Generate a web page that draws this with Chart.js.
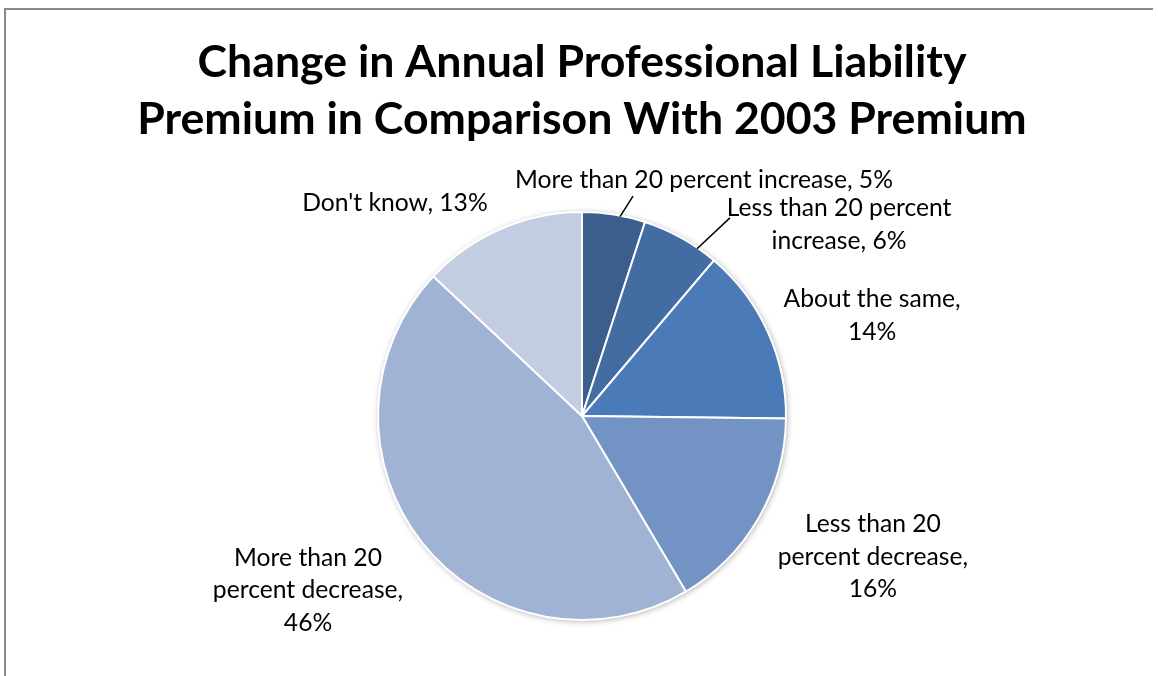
<!DOCTYPE html>
<html>
<head>
<meta charset="utf-8">
<script src="https://cdn.jsdelivr.net/npm/chart.js@4"></script>
<style>
  html, body { margin: 0; padding: 0; background: #fff; }
  #wrap { position: relative; width: 1158px; height: 676px; overflow: hidden; }
  #frame { position: absolute; left: 4px; top: 8px; width: 1149px; height: 700px;
           border-left: 2px solid #8a8a8a; border-top: 2px solid #8a8a8a; box-sizing: border-box; }
  canvas { position: absolute; left: 0; top: 0; }
</style>
</head>
<body>
<div id="wrap">
  <div id="frame"></div>
  <canvas id="c" width="1158" height="676"></canvas>
</div>
<script>
// ---- data ----
const titleLines = ["Change in Annual Professional Liability", "Premium in Comparison With 2003 Premium"];
const categories = [
  "More than 20 percent increase",
  "Less than 20 percent increase",
  "About the same",
  "Less than 20 percent decrease",
  "More than 20 percent decrease",
  "Don't know"
];
const values = [5.0, 6.2, 14.0, 16.3, 45.5, 13.0];
// how each category name is wrapped in its label (the percentage is appended)
const labelWrap = [
  ["More than 20 percent increase, {p}"],
  ["Less than 20 percent", "increase, {p}"],
  ["About the same,", "{p}"],
  ["Less than 20", "percent decrease,", "{p}"],
  ["More than 20", "percent decrease,", "{p}"],
  ["Don't know, {p}"]
];
const colors = ["#3B5E8C", "#426CA2", "#4A7AB7", "#7493C5", "#A1B3D5", "#C2CDE2"];

// ---- layout (in units of pie radius, relative to pie centre) ----
const labelPos = [[0.598, -1.157], [1.260, -0.939], [1.422, -0.493], [1.426, 0.691], [-1.343, 0.855], [-0.917, -1.044]];
const leaders = { 0: { frac: 0.6, end: [0.25, -1.078] }, 1: { frac: 0.74, end: [0.725, -0.971] } };

const labelFont = "Lato, 'Open Sans', sans-serif";
const titleFont = "Lato, 'Open Sans', sans-serif";

function fitSize(ctx, text, weight, family, target) {
  ctx.font = weight + " 100px " + family;
  return 100 * target / ctx.measureText(text).width;
}

const overlay = {
  id: 'overlay',
  beforeDatasetsDraw(chart) {
    const ctx = chart.ctx;
    const arc = chart.getDatasetMeta(0).data[0];
    ctx.save();
    ctx.shadowColor = 'rgba(0,0,0,0.35)';
    ctx.shadowBlur = 6;
    ctx.shadowOffsetX = 1;
    ctx.shadowOffsetY = 1;
    ctx.beginPath();
    ctx.arc(arc.x, arc.y, arc.outerRadius, 0, Math.PI * 2);
    ctx.fillStyle = '#fff';
    ctx.fill();
    ctx.restore();
  },
  afterDraw(chart) {
    const ctx = chart.ctx;
    const meta = chart.getDatasetMeta(0);
    const a0 = meta.data[0];
    const cx = a0.x, cy = a0.y, r = a0.outerRadius;
    const vals = chart.data.datasets[0].data;
    const total = vals.reduce((s, v) => s + v, 0);

    // title
    ctx.save();
    const ts = fitSize(ctx, titleLines[0], "bold", titleFont, 769);
    ctx.font = "bold " + ts.toFixed(2) + "px " + titleFont;
    ctx.fillStyle = "#000";
    ctx.textAlign = "center";
    ctx.textBaseline = "middle";
    ctx.fillText(titleLines[0], 582, 63);
    ctx.fillText(titleLines[1], 582, 120);
    ctx.restore();

    // labels
    ctx.save();
    const labelLines = labelWrap.map((lines, i) => {
      const p = Math.round(vals[i] / total * 100) + "%";
      return lines.map(t => t.replace("{p}", p));
    });
    const ls = fitSize(ctx, labelLines[0][0], "normal", labelFont, 378);
    ctx.font = ls.toFixed(2) + "px " + labelFont;
    ctx.fillStyle = "#000";
    ctx.textAlign = "center";
    ctx.textBaseline = "middle";
    const lh = 32.5;
    labelLines.forEach((lines, i) => {
      const x = cx + labelPos[i][0] * r;
      const y = cy + labelPos[i][1] * r;
      const y0 = y - (lines.length - 1) * lh / 2;
      lines.forEach((t, k) => ctx.fillText(t, x, y0 + k * lh));
    });
    ctx.restore();

    // leader lines
    ctx.save();
    ctx.strokeStyle = "#000";
    ctx.lineWidth = 1.5;
    Object.keys(leaders).forEach(k => {
      const a = meta.data[k];
      const L = leaders[k];
      const ang = a.startAngle + (a.endAngle - a.startAngle) * L.frac;
      const sx = cx + Math.cos(ang) * (r - 1);
      const sy = cy + Math.sin(ang) * (r - 1);
      ctx.beginPath();
      ctx.moveTo(sx, sy);
      ctx.lineTo(cx + L.end[0] * r, cy + L.end[1] * r);
      ctx.stroke();
    });
    ctx.restore();
  }
};

new Chart(document.getElementById('c'), {
  type: 'pie',
  data: {
    labels: categories,
    datasets: [{
      data: values,
      backgroundColor: colors,
      borderColor: '#ffffff',
      borderWidth: 2
    }]
  },
  options: {
    responsive: false,
    animation: false,
    events: [],
    layout: { padding: { top: 211, bottom: 55, left: 282, right: 276 } },
    plugins: { legend: { display: false }, title: { display: false }, tooltip: { enabled: false } }
  },
  plugins: [overlay]
});
</script>
</body>
</html>
